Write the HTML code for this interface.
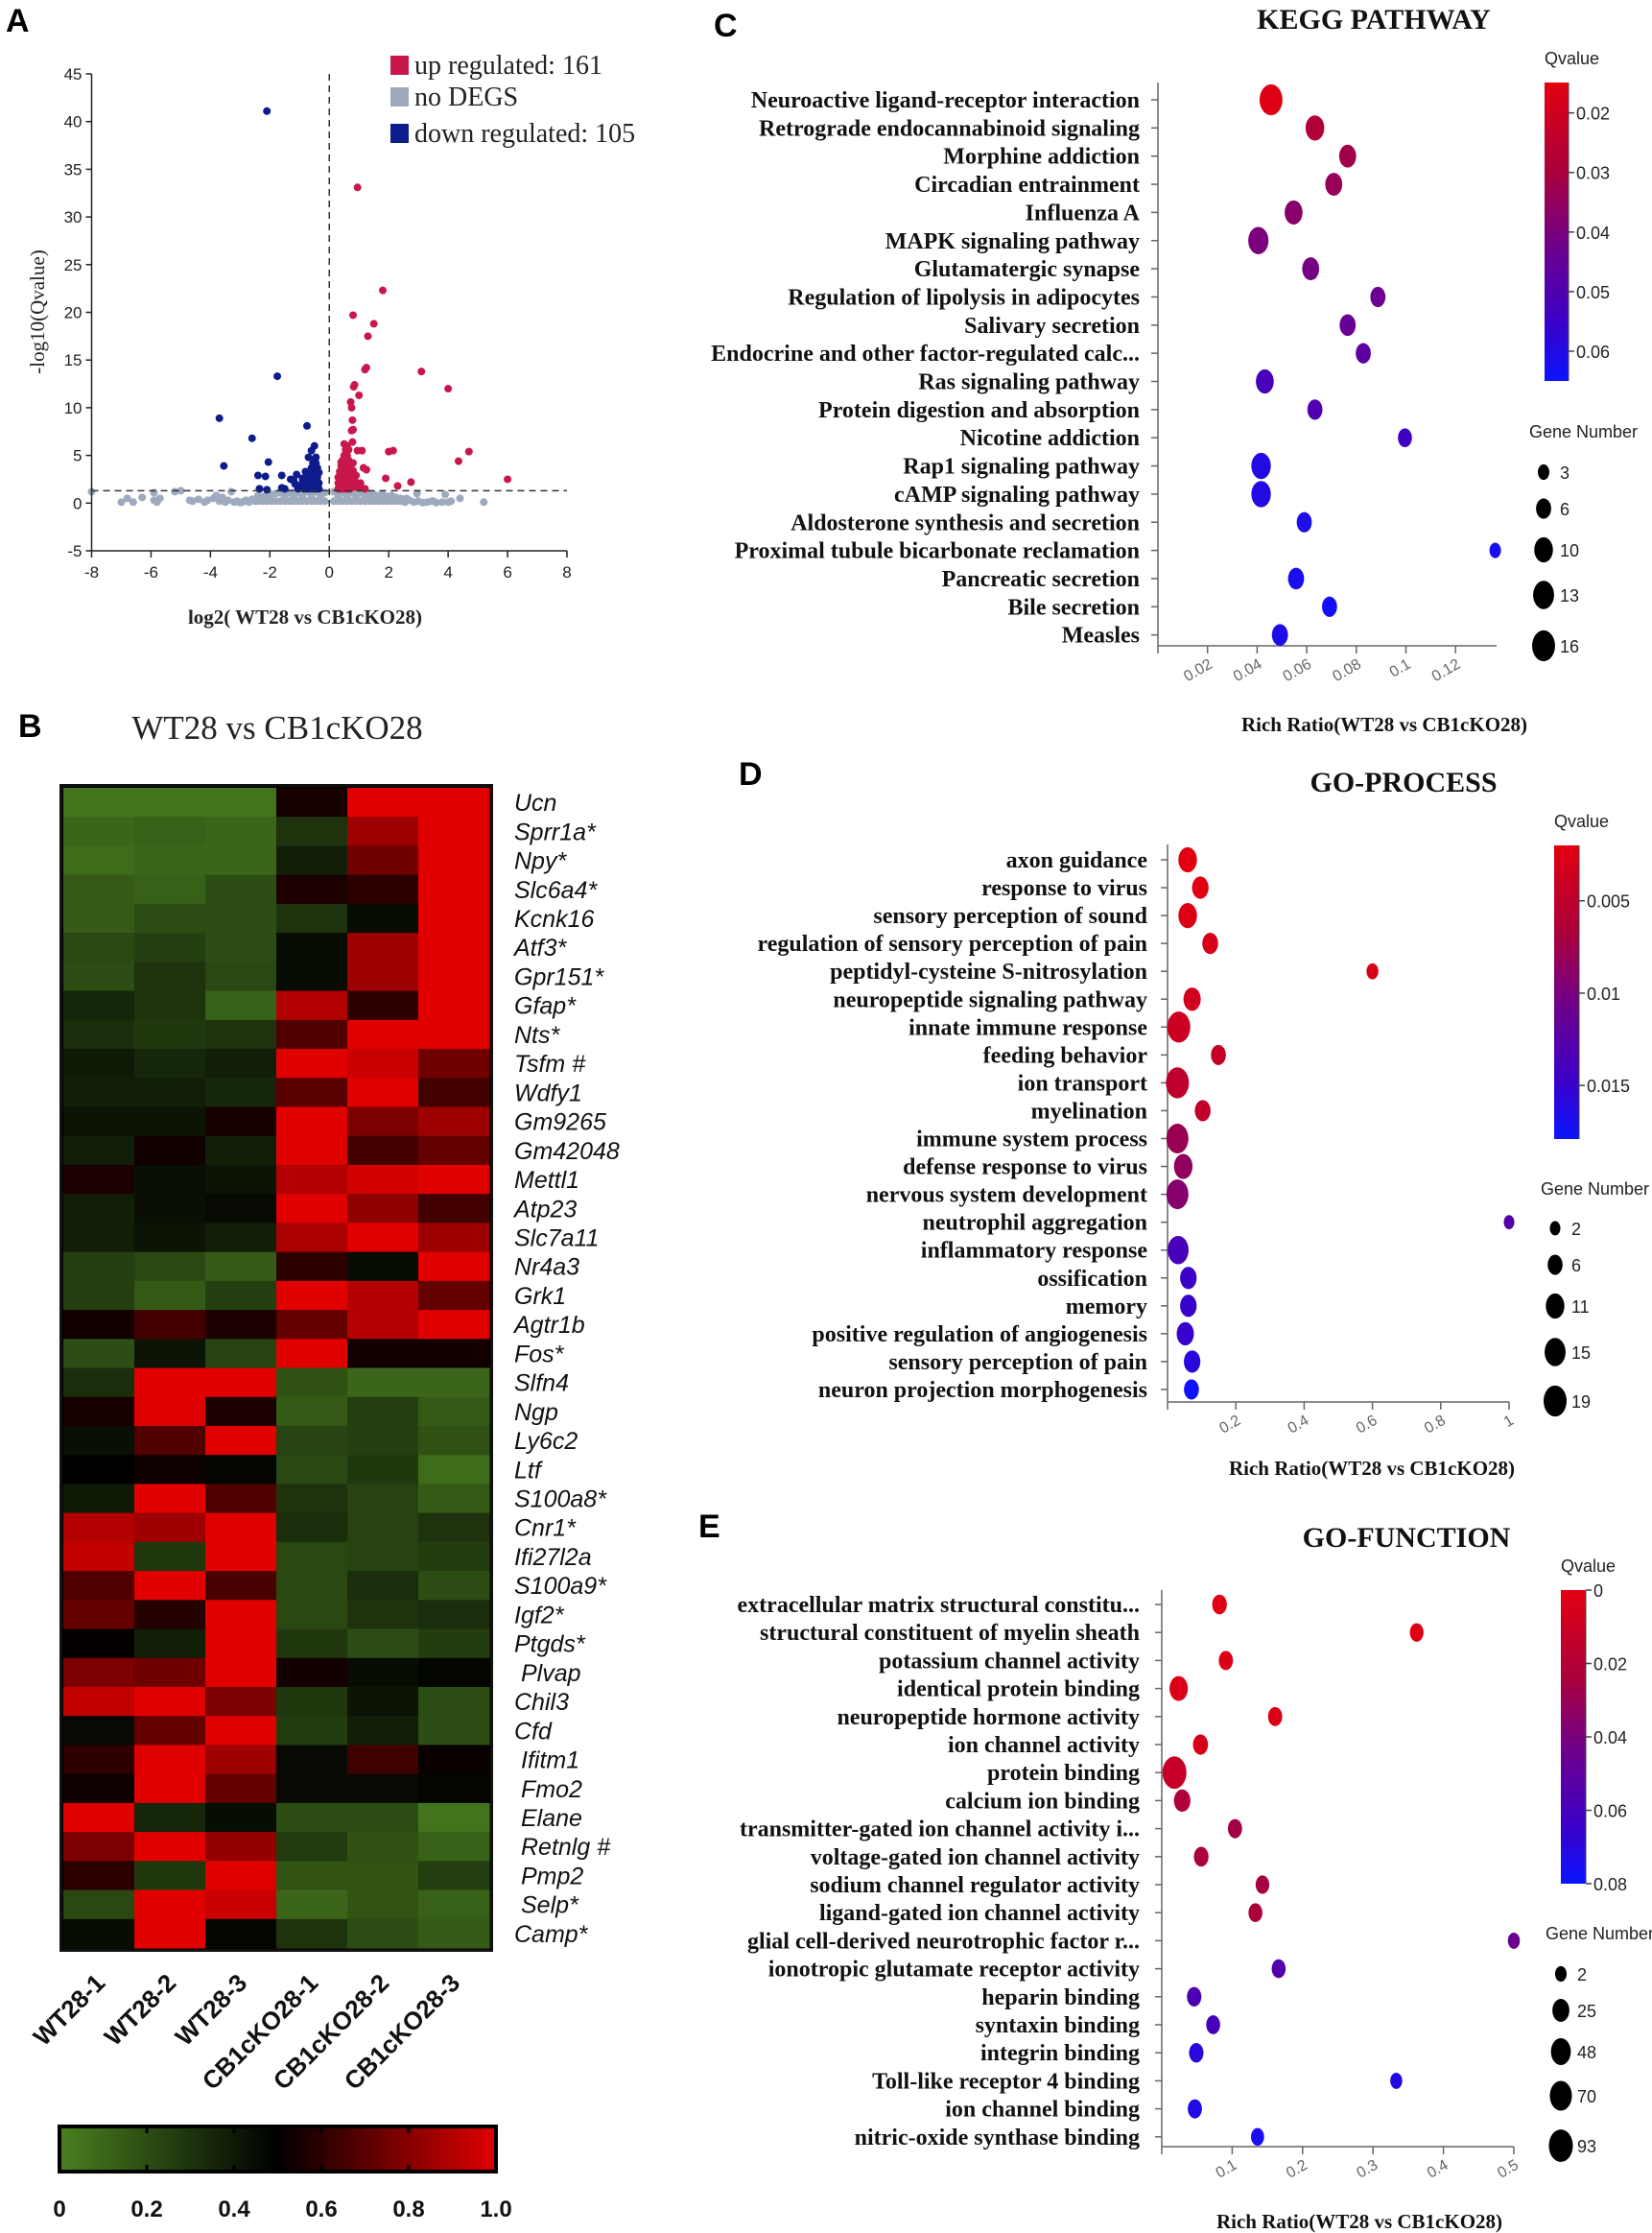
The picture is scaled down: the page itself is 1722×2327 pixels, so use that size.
<!DOCTYPE html>
<html><head><meta charset="utf-8"><title>DEG analysis figure</title>
<style>
html,body{margin:0;padding:0;background:#fff;}
svg{display:block;}
.serif{font-family:"Liberation Serif",serif;}
.sans{font-family:"Liberation Sans",sans-serif;}
</style></head>
<body>
<svg id="fig" width="1722" height="2327" viewBox="0 0 1722 2327" xmlns="http://www.w3.org/2000/svg">
<rect x="0" y="0" width="1722" height="2327" fill="#fff"/>
<text x="6" y="33" class="sans" font-size="34" font-weight="bold">A</text>
<text x="19" y="768" class="sans" font-size="34" font-weight="bold">B</text>
<text x="744" y="38" class="sans" font-size="34" font-weight="bold">C</text>
<text x="770" y="818" class="sans" font-size="34" font-weight="bold">D</text>
<text x="728" y="1602" class="sans" font-size="34" font-weight="bold">E</text>

<g id="volcano"></g>
<g id="heatmap"></g>
<g id="kegg"></g>
<g id="goproc"></g>
<g id="gofunc"></g>
</svg>
<script>
// ---------------- Volcano data ----------------
const upX=[0.95,1.8,0.8,1.5,1.3,1.25,1.2,3.1,4.0,0.85,0.82,1.0,0.72,0.75,0.78,0.8,0.75,0.78,2.0,2.15,4.7,4.35,1.1,0.95,1.15,1.25,1.9,6.0,2.3,2.75,0.9,1.0,1.2,0.85,1.05,
0.3,0.35,0.4,0.45,0.5,0.55,0.6,0.65,0.7,0.3,0.35,0.4,0.45,0.5,0.55,0.6,0.65,0.7,0.75,0.3,0.4,0.5,0.6,0.7,0.35,0.45,0.55,0.65,0.75,0.4,0.5,0.6,0.7,0.45,0.55,0.65,0.5,0.6,0.55,0.65,0.5,0.6,0.7,0.4,0.8,0.85,0.9,0.8];
const upY=[33.1,22.3,19.7,18.8,17.5,14.2,14.0,13.8,12.0,12.4,12.2,11.3,10.6,10.0,8.7,7.7,7.6,6.4,5.4,5.5,5.4,4.4,5.5,5.5,3.7,3.5,2.6,2.5,1.8,2.2,2.9,1.6,1.5,1.7,2.1,
1.5,1.5,1.5,1.5,1.5,1.5,1.5,1.5,1.5,2.1,2.1,2.1,2.1,2.1,2.1,2.1,2.1,2.1,1.9,2.7,2.7,2.7,2.7,2.7,3.3,3.3,3.3,3.3,3.3,3.9,3.9,3.9,3.9,4.5,4.5,4.5,5.0,5.0,5.6,5.6,6.2,6.0,4.2,4.3,3.4,2.4,1.9,4.2];
const downX=[-2.1,-1.75,-3.7,-2.6,-3.55,-2.05,-0.75,-2.4,-2.15,-1.6,-1.3,-1.1,-1.2,-0.8,-0.7,-0.6,-0.5,-0.45,-2.35,-2.1,-1.6,-1.5,-1.0,-0.9,
-0.35,-0.45,-0.55,-0.65,-0.75,-0.85,-0.35,-0.45,-0.55,-0.65,-0.75,-0.4,-0.5,-0.6,-0.7,-0.35,-0.45,-0.55,-0.65,-0.4,-0.5,-0.6,-0.45,-0.55,-0.5,-0.8,-0.9,-1.05,-1.15];
const downY=[41.1,13.3,8.9,6.8,3.9,4.3,8.1,2.9,2.8,2.9,2.5,3.0,2.4,3.3,4.8,5.5,6.0,4.8,1.5,1.4,1.6,1.5,1.8,2.2,
1.5,1.5,1.5,1.5,1.5,1.5,2.1,2.1,2.1,2.1,2.1,2.7,2.7,2.7,2.7,3.2,3.2,3.2,3.2,3.7,3.7,3.7,4.2,4.2,4.6,1.6,2.6,1.5,2.0];
const grayX=[-8,-7,-6.8,-6.6,-6.3,-5.9,-5.9,-5.8,-5.7,-5.2,-5,-4.7,-4.6,-4.4,-4.2,-4.1,-3.9,-3.8,-3.7,-3.6,-3.5,-3.4,-3.3,-3.2,-3.1,-3,-2.9,-2.8,-2.7,-2.6,-2.5,
-2.4,-2.25,-2.1,-1.95,-1.8,-1.65,-1.5,-1.35,-1.2,-1.05,-0.9,-0.75,-0.6,-0.45,-0.3,-0.15,0.15,0.3,0.45,0.6,0.75,0.9,1.05,1.2,1.35,1.5,1.65,1.8,1.95,2.1,2.25,2.4,
-2.4,-2.25,-2.1,-1.95,-1.8,-1.65,-1.5,-1.35,-1.2,-1.05,-0.9,-0.75,-0.6,-0.45,-0.3,-0.15,0.15,0.3,0.45,0.6,0.75,0.9,1.05,1.2,1.35,1.5,1.65,1.8,1.95,2.1,2.25,2.4,
-1.5,-1.2,-0.9,-0.6,-0.3,0.3,0.6,0.9,1.2,1.5,
2.55,2.7,2.85,3.0,3.15,3.3,3.45,3.6,3.8,3.9,4.0,4.1,4.4,5.2,2.95,2.6,2.2,3.5];
const grayY=[1.2,0.1,0.5,0.1,0.6,1.1,0.3,0.1,0.5,1.2,1.3,0.3,0.2,0.4,0.1,0.3,0.5,0.8,0.2,0.6,0.1,0.3,1.2,0.1,0.2,0.05,0.15,0.3,0.1,0.4,0.2,
0.2,0.2,0.2,0.2,0.2,0.2,0.2,0.2,0.2,0.2,0.2,0.2,0.2,0.2,0.2,0.2,0.2,0.2,0.2,0.2,0.2,0.2,0.2,0.2,0.2,0.2,0.2,0.2,0.2,0.2,0.2,0.2,
0.8,0.7,0.8,0.9,1.0,1.1,1.0,1.1,1.1,1.1,1.0,1.2,1.1,1.2,1.2,1.1,1.2,1.2,1.1,1.2,1.1,1.0,1.1,1.0,1.0,0.9,0.8,0.9,0.7,0.8,0.6,0.5,
0.55,0.6,0.6,0.65,0.7,0.7,0.65,0.6,0.6,0.55,
0.1,0.3,0.1,0.2,0.05,0.1,0.2,0.05,0.1,0.9,0.1,0.2,0.5,0.1,1.0,0.5,0.6,0.2];
const volXTicks=[-8,-6,-4,-2,0,2,4,6,8];
const volYTicks=[-5,0,5,10,15,20,25,30,35,40,45];

// ---------------- Heatmap data ----------------
const hmGenes=["Ucn","Sprr1a*","Npy*","Slc6a4*","Kcnk16","Atf3*","Gpr151*","Gfap*","Nts*","Tsfm #","Wdfy1","Gm9265","Gm42048","Mettl1","Atp23","Slc7a11","Nr4a3","Grk1","Agtr1b","Fos*","Slfn4","Ngp","Ly6c2","Ltf","S100a8*","Cnr1*","Ifi27l2a","S100a9*","Igf2*","Ptgds*","Plvap","Chil3","Cfd","Ifitm1","Fmo2","Elane","Retnlg #","Pmp2","Selp*","Camp*"];
const hmIndent=[0,0,0,0,0,0,0,0,0,0,0,0,0,0,0,0,0,0,0,0,0,0,0,0,0,0,0,0,0,0,1,0,0,1,1,1,1,1,1,0];
const hmSamples=["WT28-1","WT28-2","WT28-3","CB1cKO28-1","CB1cKO28-2","CB1cKO28-3"];
const hmValues=[
[.05,.05,.05,.55,1,1],[.1,.12,.1,.3,.85,1],[.08,.1,.1,.38,.75,1],[.15,.12,.2,.56,.6,1],[.15,.2,.2,.3,.45,1],
[.22,.25,.2,.45,.85,1],[.2,.3,.22,.45,.85,1],[.35,.3,.12,.9,.6,1],[.32,.28,.3,.68,1,1],[.4,.35,.38,1,.95,.75],
[.38,.38,.35,.7,1,.65],[.42,.42,.55,1,.78,.85],[.38,.54,.38,1,.65,.72],[.56,.44,.42,.9,.97,1],[.38,.44,.46,1,.82,.65],
[.38,.42,.38,.88,1,.85],[.25,.22,.15,.6,.45,1],[.25,.15,.25,1,.9,.72],[.54,.65,.56,.72,.9,1],[.2,.42,.24,1,.54,.54],
[.32,1,1,.18,.1,.1],[.55,1,.56,.15,.25,.15],[.44,.68,1,.24,.25,.18],[.5,.53,.48,.22,.28,.08],[.4,1,.68,.3,.24,.15],
[.9,.85,1,.32,.24,.3],[.93,.28,1,.22,.24,.26],[.68,1,.66,.22,.32,.2],[.72,.58,1,.22,.3,.32],[.51,.38,1,.28,.2,.26],
[.78,.75,1,.54,.45,.48],[.93,1,.78,.28,.42,.2],[.46,.72,1,.26,.38,.2],[.6,1,.85,.46,.64,.52],[.53,1,.72,.46,.46,.48],
[1,.35,.45,.2,.2,.05],[.78,1,.83,.27,.18,.12],[.6,.28,1,.17,.17,.25],[.22,1,.95,.1,.17,.12],[.45,1,.48,.3,.2,.15]];
const hmScaleTicks=[0,0.2,0.4,0.6,0.8,1.0];
const hmScaleLabels=["0","0.2","0.4","0.6","0.8","1.0"];

// ---------------- KEGG data ----------------
const keggTerms=["Neuroactive ligand-receptor interaction","Retrograde endocannabinoid signaling","Morphine addiction","Circadian entrainment","Influenza A","MAPK signaling pathway","Glutamatergic synapse","Regulation of lipolysis in adipocytes","Salivary secretion","Endocrine and other factor-regulated calc...","Ras signaling pathway","Protein digestion and absorption","Nicotine addiction","Rap1 signaling pathway","cAMP signaling pathway","Aldosterone synthesis and secretion","Proximal tubule bicarbonate reclamation","Pancreatic secretion","Bile secretion","Measles"];
const keggRatio=[.0456,.0633,.0765,.0709,.0547,.0405,.0616,.0887,.0765,.0828,.0431,.0633,.0996,.0416,.0416,.059,.136,.0557,.0692,.0492];
const keggGenes=[16,10,8,8,9,12,8,6,7,6,9,6,5,11,11,6,3,7,6,7];
const keggQ=[.016,.028,.032,.034,.037,.040,.041,.043,.044,.047,.052,.050,.054,.060,.060,.061,.062,.062,.063,.061];
const keggXTicks=[0.02,0.04,0.06,0.08,0.1,0.12];
const keggXLabels=["0.02","0.04","0.06","0.08","0.1","0.12"];
const keggQTicks=[0.02,0.03,0.04,0.05,0.06];
const keggQLabels=["0.02","0.03","0.04","0.05","0.06"];
const keggSizeLegend=[3,6,10,13,16];

// ---------------- GO process data ----------------
const gopTerms=["axon guidance","response to virus","sensory perception of sound","regulation of sensory perception of pain","peptidyl-cysteine S-nitrosylation","neuropeptide signaling pathway","innate immune response","feeding behavior","ion transport","myelination","immune system process","defense response to virus","nervous system development","neutrophil aggregation","inflammatory response","ossification","memory","positive regulation of angiogenesis","sensory perception of pain","neuron projection morphogenesis"];
const gopRatio=[.059,.096,.059,.125,.60,.072,.033,.149,.029,.103,.029,.046,.029,1.0,.031,.061,.061,.052,.072,.070];
const gopGenes=[11,8,11,7,3,9,19,6,19,7,17,11,17,2,15,8,8,9,8,6];
const gopQ=[.002,.0022,.0025,.003,.003,.0035,.004,.0045,.005,.0048,.0078,.0085,.0092,.0128,.0138,.0148,.015,.015,.0158,.0176];
const gopXTicks=[0.2,0.4,0.6,0.8,1];
const gopXLabels=["0.2","0.4","0.6","0.8","1"];
const gopQTicks=[0.005,0.01,0.015];
const gopQLabels=["0.005","0.01","0.015"];
const gopSizeLegend=[2,6,11,15,19];

// ---------------- GO function data ----------------
const gofTerms=["extracellular matrix structural constitu...","structural constituent of myelin sheath","potassium channel activity","identical protein binding","neuropeptide hormone activity","ion channel activity","protein binding","calcium ion binding","transmitter-gated ion channel activity i...","voltage-gated ion channel activity","sodium channel regulator activity","ligand-gated ion channel activity","glial cell-derived neurotrophic factor r...","ionotropic glutamate receptor activity","heparin binding","syntaxin binding","integrin binding","Toll-like receptor 4 binding","ion channel binding","nitric-oxide synthase binding"];
const gofRatio=[.082,.362,.091,.024,.161,.055,.018,.029,.104,.056,.143,.133,.50,.166,.046,.073,.049,.333,.047,.136];
const gofGenes=[12,8,10,35,10,14,93,22,10,12,8,9,3,9,11,9,11,3,10,6];
const gofQ=[.001,.002,.003,.004,.004,.005,.012,.022,.026,.023,.025,.024,.045,.055,.057,.060,.070,.072,.073,.075];
const gofXTicks=[0.1,0.2,0.3,0.4,0.5];
const gofXLabels=["0.1","0.2","0.3","0.4","0.5"];
const gofQTicks=[0,0.02,0.04,0.06,0.08];
const gofQLabels=["0","0.02","0.04","0.06","0.08"];
const gofSizeLegend=[2,25,48,70,93];

// ---------------- helpers ----------------
const NS="http://www.w3.org/2000/svg";
function mk(tag,attrs,parent){const e=document.createElementNS(NS,tag);for(const k in attrs)e.setAttribute(k,attrs[k]);parent.appendChild(e);return e;}
function txt(parent,x,y,s,attrs){const e=mk("text",Object.assign({x:x,y:y},attrs||{}),parent);e.textContent=s;return e;}

// ================= VOLCANO =================
(function(){
  const g=document.getElementById("volcano");
  const x0=95.5,x1=591,yTop=77,yBot=574;
  const xA=v=>x0+(v+8)/16*(x1-x0);
  const yA=v=>yBot-(v+5)/50*(yBot-yTop);
  for(let i=0;i<grayX.length;i++){
    const c=mk("circle",{cx:xA(grayX[i]),cy:yA(grayY[i]),r:4,fill:"#9eabbf"},g);
    
    
  }
  for(let i=0;i<upX.length;i++){
    const c=mk("circle",{cx:xA(upX[i]),cy:yA(upY[i]),r:4,fill:"#c9174c"},g);
    
    
  }
  for(let i=0;i<downX.length;i++){
    const c=mk("circle",{cx:xA(downX[i]),cy:yA(downY[i]),r:4,fill:"#0e1b8c"},g);
    
    
  }
  const h=mk("line",{x1:x0,x2:x1,y1:yA(1.3),y2:yA(1.3),stroke:"#333","stroke-width":1.5,"stroke-dasharray":"7,5"},g);
  
  
  const v=mk("line",{x1:xA(0),x2:xA(0),y1:yTop,y2:yBot,stroke:"#333","stroke-width":1.5,"stroke-dasharray":"7,5"},g);
  
  
  const ay=mk("line",{x1:x0,x2:x0,y1:yTop,y2:yBot,stroke:"#222","stroke-width":1.5},g);
  
  
  const ax=mk("line",{x1:x0,x2:x1,y1:yBot,y2:yBot,stroke:"#222","stroke-width":1.5},g);
  
  
  volYTicks.forEach(t=>{
    const l=mk("line",{x1:x0-6,x2:x0,y1:yA(t),y2:yA(t),stroke:"#222","stroke-width":1.5},g);
    
    
    const tl=txt(g,x0-10,yA(t)+6,String(t),{"text-anchor":"end","font-size":17,fill:"#222",class:"sans"});
    
    
  });
  volXTicks.forEach(t=>{
    const l=mk("line",{x1:xA(t),x2:xA(t),y1:yBot,y2:yBot+7,stroke:"#222","stroke-width":1.5},g);
    
    
    const tl=txt(g,xA(t),yBot+28,String(t),{"text-anchor":"middle","font-size":17,fill:"#222",class:"sans"});
    
    
  });
  const yt=txt(g,0,0,"-log10(Qvalue)",{transform:"translate(46,325) rotate(-90)","text-anchor":"middle","font-size":21,fill:"#222",class:"serif"});
  
  
  const xt=txt(g,318,650,"log2( WT28 vs CB1cKO28)",{"text-anchor":"middle","font-size":21,"font-weight":"bold",fill:"#222",class:"serif"});
  
  
  const leg=[["#c9174c","up regulated: 161",68],["#9eabbf","no DEGS",101],["#0e1b8c","down regulated: 105",139]];
  leg.forEach(L=>{
    const s=mk("rect",{x:407,y:L[2]-10,width:19,height:20,fill:L[0]},g);
    
    
    const t=txt(g,432,L[2]+9,L[1],{"font-size":28,fill:"#222",class:"serif"});
    
    
  });
})();

// ================= HEATMAP =================
function hmColor(v){
  if(v<=0.5){const t=(0.5-v)/0.5;return "rgb("+Math.round(74*t)+","+Math.round(128*t)+","+Math.round(32*t)+")";}
  const t=(v-0.5)/0.5;return "rgb("+Math.round(224*t)+",0,0)";
}
(function(){
  const g=document.getElementById("heatmap");
  const t=txt(g,289,770,"WT28 vs CB1cKO28",{"text-anchor":"middle","font-size":35,fill:"#222",class:"serif"});
  
  
  const left=66,top=821,cw=74,rh=(2030-821)/hmGenes.length;
  const frame=mk("rect",{x:left-2.5,y:top-2.5,width:cw*6+5,height:rh*hmGenes.length+5,fill:"#000",stroke:"#111","stroke-width":3},g);
  
  
  for(let r=0;r<hmGenes.length;r++){
    for(let c=0;c<6;c++){
      const cell=mk("rect",{x:left+c*cw,y:top+r*rh,width:cw+0.5,height:rh+0.5,fill:hmColor(hmValues[r][c])},g);
      
      
    }
    const lab=txt(g,536+hmIndent[r]*7,top+r*rh+rh/2+9,hmGenes[r],{"font-size":25,"font-style":"italic",fill:"#111",class:"sans"});
    
    
  }
  hmSamples.forEach((s,i)=>{
    const cx=left+i*cw+cw/2+8;
    const l=txt(g,0,0,s,{transform:"translate("+cx+",2068) rotate(-45)","text-anchor":"end","font-size":26,"font-weight":"bold",fill:"#111",class:"sans"});
    
    
  });
  const defs=mk("defs",{},g);
  const lg=mk("linearGradient",{id:"hmgrad",x1:"0",x2:"1",y1:"0",y2:"0"},defs);
  mk("stop",{offset:"0","stop-color":"rgb(74,128,32)"},lg);
  mk("stop",{offset:"0.5","stop-color":"#000"},lg);
  mk("stop",{offset:"1","stop-color":"rgb(224,0,0)"},lg);
  const sx0=62,sx1=517;
  const bar=mk("rect",{x:sx0,y:2216,width:sx1-sx0,height:47,fill:"url(#hmgrad)",stroke:"#000","stroke-width":4},g);
  
  
  hmScaleTicks.forEach((v,i)=>{
    const x=sx0+v*(sx1-sx0);
    if(i>0&&i<hmScaleTicks.length-1){
      const a=mk("line",{x1:x,x2:x,y1:2216,y2:2223,stroke:"#000","stroke-width":3},g);
      
      
      const b=mk("line",{x1:x,x2:x,y1:2256,y2:2263,stroke:"#000","stroke-width":3},g);
      
      
    }
    const l=txt(g,x,2310,hmScaleLabels[i],{"text-anchor":"middle","font-size":24,"font-weight":"bold",fill:"#111",class:"sans"});
    
    
  });
})();

// ================= BUBBLE CHARTS =================
const qStops=[[0,[226,0,16]],[0.3,[170,0,60]],[0.55,[110,0,140]],[0.8,[60,0,200]],[1,[10,20,255]]];
function qColor(f){
  f=Math.max(0,Math.min(1,f));
  for(let i=1;i<qStops.length;i++){
    if(f<=qStops[i][0]){
      const a=qStops[i-1],b=qStops[i],t=(f-a[0])/(b[0]-a[0]);
      return "rgb("+a[1].map((c,j)=>Math.round(c+(b[1][j]-c)*t)).join(",")+")";
    }
  }
  return "rgb(10,20,255)";
}
function bubbleChart(gid,cfg){
  const g=document.getElementById(gid);
  const xS=v=>cfg.ax+v*cfg.pxPerUnit;
  const yS=i=>cfg.row0+i*cfg.rowStep;
  const rx=n=>cfg.sa*Math.sqrt(n)+cfg.sb;
  const qF=q=>(q-cfg.qTop)/(cfg.qBot-cfg.qTop);
  const title=txt(g,cfg.titleX,cfg.titleY,cfg.title,{"text-anchor":"middle","font-size":30,"font-weight":"bold",fill:"#111",class:"serif"});
  
  
  const ay=mk("line",{x1:cfg.ax,x2:cfg.ax,y1:cfg.axTop,y2:cfg.axBot,stroke:"#666","stroke-width":1.5},g);
  
  
  const ax=mk("line",{x1:cfg.ax,x2:cfg.axRight,y1:cfg.axBot,y2:cfg.axBot,stroke:"#666","stroke-width":1.5},g);
  
  
  const t0=mk("line",{x1:cfg.ax,x2:cfg.ax,y1:cfg.axBot,y2:cfg.axBot+8,stroke:"#666","stroke-width":1.5},g);
  
  
  cfg.terms.forEach((term,i)=>{
    const tk=mk("line",{x1:cfg.ax-7,x2:cfg.ax,y1:yS(i),y2:yS(i),stroke:"#666","stroke-width":1.5},g);
    
    
    const l=txt(g,cfg.labelX,yS(i)+8,term,{"text-anchor":"end","font-size":24,"font-weight":"bold",fill:"#111",class:"serif"});
    
    
  });
  cfg.xTicks.forEach((v,i)=>{
    const x=xS(v);
    const tk=mk("line",{x1:x,x2:x,y1:cfg.axBot,y2:cfg.axBot+8,stroke:"#666","stroke-width":1.5},g);
    
    
    const l=txt(g,0,0,cfg.xLabels[i],{transform:"translate("+(x+6)+","+(cfg.axBot+22)+") rotate(-30)","text-anchor":"end","font-size":16,fill:"#666",class:"sans"});
    
    
  });
  const xt=txt(g,cfg.xTitleX,cfg.xTitleY,"Rich Ratio(WT28 vs CB1cKO28)",{"text-anchor":"middle","font-size":21,"font-weight":"bold",fill:"#111",class:"serif"});
  
  
  cfg.terms.forEach((term,i)=>{
    const r=rx(cfg.genes[i]);
    const b=mk("ellipse",{cx:xS(cfg.ratio[i]),cy:yS(i),rx:r,ry:r*1.35,fill:qColor(qF(cfg.q[i]))},g);
    
    
  });
  const gid2=gid+"-qgrad";
  const defs=mk("defs",{},g);
  const lg=mk("linearGradient",{id:gid2,x1:"0",x2:"0",y1:"0",y2:"1"},defs);
  qStops.forEach(s=>mk("stop",{offset:String(s[0]),"stop-color":"rgb("+s[1].join(",")+")"},lg));
  const qt=txt(g,cfg.cbX,cfg.qTitleY,"Qvalue",{"font-size":18,fill:"#222",class:"sans"});
  
  
  const cb=mk("rect",{x:cfg.cbX,y:cfg.cbTop,width:cfg.cbW,height:cfg.cbBot-cfg.cbTop,fill:"url(#"+gid2+")"},g);
  
  
  const cbl=mk("line",{x1:cfg.cbX+cfg.cbW,x2:cfg.cbX+cfg.cbW,y1:cfg.cbTop,y2:cfg.cbBot,stroke:"#444","stroke-width":1},g);
  
  
  cfg.qTicks.forEach((q,i)=>{
    const y=cfg.cbTop+qF(q)*(cfg.cbBot-cfg.cbTop);
    const tk=mk("line",{x1:cfg.cbX+cfg.cbW,x2:cfg.cbX+cfg.cbW+6,y1:y,y2:y,stroke:"#444","stroke-width":1.5},g);
    
    
    const l=txt(g,cfg.cbX+cfg.cbW+8,y+7,cfg.qLabels[i],{"font-size":18,fill:"#222",class:"sans"});
    
    
  });
  const gt=txt(g,cfg.gnX,cfg.gnY,"Gene Number",{"font-size":18,fill:"#222",class:"sans"});
  
  
  cfg.sizeLegend.forEach((n,i)=>{
    const r=rx(n);
    const e=mk("ellipse",{cx:cfg.slX,cy:cfg.slY[i],rx:r,ry:r*1.35,fill:"#000"},g);
    
    
    const l=txt(g,cfg.slX+17,cfg.slY[i]+7,String(n),{"font-size":18,fill:"#222",class:"sans"});
    
    
  });
}

bubbleChart("kegg",{title:"KEGG PATHWAY",titleX:1432,titleY:30,terms:keggTerms,ratio:keggRatio,genes:keggGenes,q:keggQ,
  ax:1207,axRight:1560,axTop:86,axBot:673,pxPerUnit:2585,row0:104,rowStep:29.35,labelX:1188,
  xTicks:keggXTicks,xLabels:keggXLabels,xTitleX:1443,xTitleY:762,sa:2.64,sb:1.4,
  qTop:0.0149,qBot:0.065,qTicks:keggQTicks,qLabels:keggQLabels,cbX:1610,cbW:25,cbTop:86,cbBot:397,qTitleY:67,
  gnX:1594,gnY:456,slX:1609,slY:[492,530,573,620,673],sizeLegend:keggSizeLegend});

bubbleChart("goproc",{title:"GO-PROCESS",titleX:1463,titleY:825,terms:gopTerms,ratio:gopRatio,genes:gopGenes,q:gopQ,
  ax:1217,axRight:1573,axTop:880,axBot:1461,pxPerUnit:356,row0:896,rowStep:29.05,labelX:1196,
  xTicks:gopXTicks,xLabels:gopXLabels,xTitleX:1430,xTitleY:1537,sa:2.2,sb:2.4,
  qTop:0.002,qBot:0.0179,qTicks:gopQTicks,qLabels:gopQLabels,cbX:1620,cbW:26,cbTop:881,cbBot:1187,qTitleY:862,
  gnX:1606,gnY:1245,slX:1621,slY:[1280,1318,1361,1409,1460],sizeLegend:gopSizeLegend});

bubbleChart("gofunc",{title:"GO-FUNCTION",titleX:1466,titleY:1612,terms:gofTerms,ratio:gofRatio,genes:gofGenes,q:gofQ,
  ax:1211,axRight:1578,axTop:1657,axBot:2237,pxPerUnit:734,row0:1672,rowStep:29.2,labelX:1188,
  xTicks:gofXTicks,xLabels:gofXLabels,xTitleX:1417,xTitleY:2322,sa:0.79,sb:4.9,
  qTop:0,qBot:0.08,qTicks:gofQTicks,qLabels:gofQLabels,cbX:1627,cbW:26,cbTop:1657,cbBot:1963,qTitleY:1638,
  gnX:1611,gnY:2021,slX:1627,slY:[2057,2095,2138,2184,2236],sizeLegend:gofSizeLegend});
</script>
</body></html>
